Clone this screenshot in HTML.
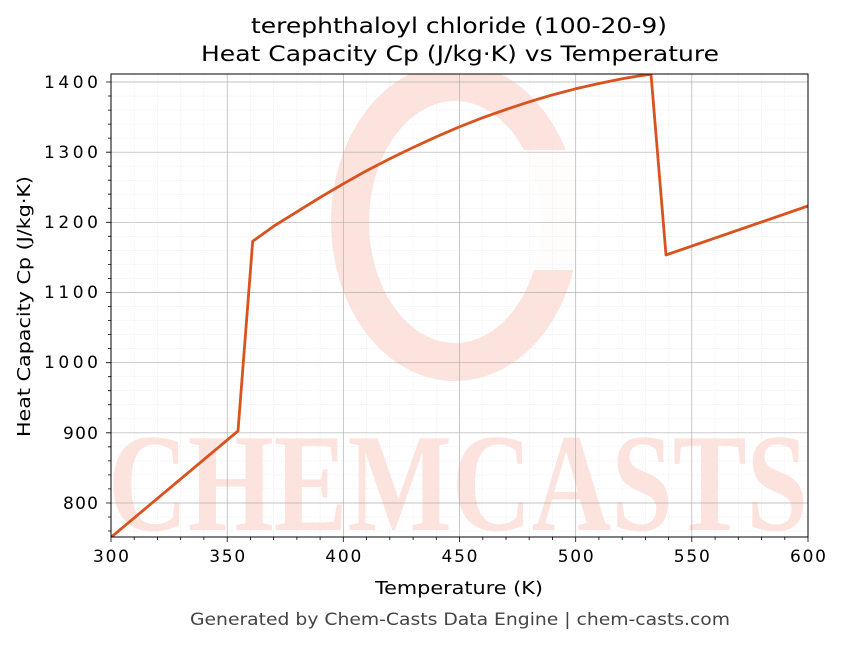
<!DOCTYPE html>
<html><head><meta charset="utf-8"><style>
html,body{margin:0;padding:0;background:#fff;}
svg text{font-family:"DejaVu Sans","Liberation Sans",sans-serif;}
</style></head><body>
<svg width="843" height="644" viewBox="0 0 843 644" xmlns="http://www.w3.org/2000/svg">
<rect width="843" height="644" fill="#fff"/>
<defs><clipPath id="c"><rect x="111" y="74" width="697" height="463"/></clipPath></defs>
<g clip-path="url(#c)">
<ellipse cx="455" cy="222" rx="105" ry="140" fill="none" stroke="#fde3de" stroke-width="38"/>
<rect x="520" y="150" width="80" height="120" fill="#fff" opacity="0.9"/>
<text x="458" y="530" font-size="140" font-weight="bold" fill="#fde3de" text-anchor="middle" textLength="700" lengthAdjust="spacingAndGlyphs" style="font-family:'Liberation Serif',serif">CHEMCASTS</text>
<g stroke="#e6e6e6" stroke-width="0.5" stroke-dasharray="1,1">
<path d="M134.2 74V537M157.5 74V537M180.7 74V537M203.9 74V537M250.4 74V537M273.6 74V537M296.9 74V537M320.1 74V537M366.6 74V537M389.8 74V537M413.1 74V537M436.3 74V537M482.8 74V537M506 74V537M529.2 74V537M552.5 74V537M598.9 74V537M622.2 74V537M645.4 74V537M668.6 74V537M715.1 74V537M738.3 74V537M761.6 74V537M784.8 74V537"/>
<path d="M111 96H808M111 110.1H808M111 124.1H808M111 138.1H808M111 166.2H808M111 180.2H808M111 194.2H808M111 208.3H808M111 236.3H808M111 250.4H808M111 264.4H808M111 278.4H808M111 306.5H808M111 320.5H808M111 334.6H808M111 348.6H808M111 376.7H808M111 390.7H808M111 404.7H808M111 418.8H808M111 446.8H808M111 460.9H808M111 474.9H808M111 488.9H808M111 517H808M111 531H808"/>
</g>
<g stroke="#b0b0b0" stroke-width="0.7">
<path d="M227.2 74V537M343.3 74V537M459.5 74V537M575.7 74V537M691.8 74V537"/>
<path d="M111 82H808M111 152.2H808M111 222.3H808M111 292.5H808M111 362.7H808M111 432.8H808M111 503H808"/>
</g>
<polyline fill="none" stroke="#d9531e" stroke-width="2.8" stroke-linejoin="round" points="109,539 238,431 252.7,241.3 274,226 296.9,211.8 320,197.5 343.3,183.8 366,171 389.8,158.8 413,147.5 436.3,136.8 459,127 482.7,117.7 506,109.5 529.2,101.8 552,95 575.7,88.8 599,83.5 622.1,78.8 637,76.3 651,74.3 666,255 808,206"/>
</g>
<rect x="111" y="74" width="697" height="463" fill="none" stroke="#000" stroke-width="1"/>
<g stroke="#000" stroke-width="0.8">
<path d="M111 537v5M227.2 537v5M343.3 537v5M459.5 537v5M575.7 537v5M691.8 537v5M808 537v5"/>
<path d="M111 82h-5M111 152.2h-5M111 222.3h-5M111 292.5h-5M111 362.7h-5M111 432.8h-5M111 503h-5"/>
<path d="M134.2 537v3M157.5 537v3M180.7 537v3M203.9 537v3M250.4 537v3M273.6 537v3M296.9 537v3M320.1 537v3M366.6 537v3M389.8 537v3M413.1 537v3M436.3 537v3M482.8 537v3M506 537v3M529.2 537v3M552.5 537v3M598.9 537v3M622.2 537v3M645.4 537v3M668.6 537v3M715.1 537v3M738.3 537v3M761.6 537v3M784.8 537v3"/>
<path d="M111 96h-3M111 110.1h-3M111 124.1h-3M111 138.1h-3M111 166.2h-3M111 180.2h-3M111 194.2h-3M111 208.3h-3M111 236.3h-3M111 250.4h-3M111 264.4h-3M111 278.4h-3M111 306.5h-3M111 320.5h-3M111 334.6h-3M111 348.6h-3M111 376.7h-3M111 390.7h-3M111 404.7h-3M111 418.8h-3M111 446.8h-3M111 460.9h-3M111 474.9h-3M111 488.9h-3M111 517h-3M111 531h-3"/>
</g>
<g font-size="17" fill="#000" text-anchor="middle" lengthAdjust="spacingAndGlyphs">
<text x="111" y="562" textLength="36">300</text><text x="227.2" y="562" textLength="36">350</text><text x="343.3" y="562" textLength="36">400</text><text x="459.5" y="562" textLength="36">450</text><text x="575.7" y="562" textLength="36">500</text><text x="691.8" y="562" textLength="36">550</text><text x="808" y="562" textLength="36">600</text>
</g>
<g font-size="17" fill="#000" text-anchor="end">
<text x="98" y="88" textLength="54">1400</text><text x="98" y="158" textLength="54">1300</text><text x="98" y="228" textLength="54">1200</text><text x="98" y="298" textLength="54">1100</text><text x="98" y="368" textLength="54">1000</text><text x="98" y="439" textLength="35">900</text><text x="98" y="509" textLength="35">800</text>
</g>
<text x="375" y="594" font-size="18" textLength="168" lengthAdjust="spacingAndGlyphs">Temperature (K)</text>
<text transform="translate(30,437) rotate(-90)" font-size="18" textLength="261" lengthAdjust="spacingAndGlyphs">Heat Capacity Cp (J/kg·K)</text>
<text x="251" y="33" font-size="21" textLength="416" lengthAdjust="spacingAndGlyphs">terephthaloyl chloride (100-20-9)</text>
<text x="201" y="61" font-size="21" textLength="518" lengthAdjust="spacingAndGlyphs">Heat Capacity Cp (J/kg·K) vs Temperature</text>
<text x="190" y="625" font-size="16.5" fill="#444" textLength="540" lengthAdjust="spacingAndGlyphs">Generated by Chem-Casts Data Engine | chem-casts.com</text>
</svg>
</body></html>
